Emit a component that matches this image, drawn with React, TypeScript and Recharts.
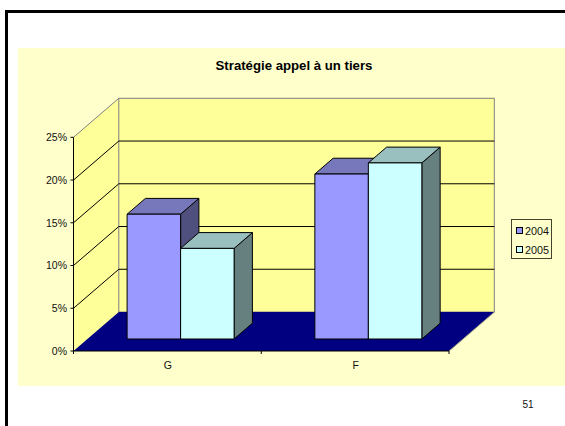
import React from 'react';
import { BarChart, Bar, XAxis, YAxis, Legend, usePlotArea } from 'recharts';

const title = 'Stratégie appel à un tiers';
const pageNumber = '51';
const categories = ['G', 'F'];
const series2004 = [14.6, 19.3];
const series2005 = [10.6, 20.6];
const yTicks = [0, 5, 10, 15, 20, 25];
const seriesNames = ['2004', '2005'];

const data = categories.map((name, i) => ({ name, s2004: series2004[i], s2005: series2005[i] }));

const FONT = '"Liberation Sans", Arial, sans-serif';
const WALL_DX = 45.3;
const WALL_DY = 39;
const BAR_SHIFT_X = 13.6;
const BAR_SHIFT_Y = 12;
const BAR_DX = 18.3;
const BAR_DY = 15.8;
const Y_MAX = 25;

const pts = (a: number[][]) => a.map((p) => p.join(',')).join(' ');

function Scene() {
  const plot = usePlotArea();
  if (!plot) return null;
  const { x, y, width, height } = plot;
  const x2 = x + width;
  const y0 = y + height;
  const yAt = (t: number) => y + height * (1 - t / Y_MAX);
  const n = categories.length;
  return (
    <g>
      <polygon points={pts([[x, y], [x + WALL_DX, y - WALL_DY], [x + WALL_DX, y0 - WALL_DY], [x, y0]])} fill="#FFFF99" />
      <rect x={x + WALL_DX} y={y - WALL_DY} width={width} height={height} fill="#FFFF99" stroke="#808080" strokeWidth={1} />
      <polygon
        points={pts([[x, y0], [x + WALL_DX, y0 - WALL_DY], [x2 + WALL_DX, y0 - WALL_DY], [x2, y0]])}
        fill="#000080"
      />
      {yTicks.filter((t) => t > 0).map((t) => {
        const c = t === Y_MAX ? '#808080' : '#000000';
        return (
          <g key={t}>
            <line x1={x} y1={yAt(t)} x2={x + WALL_DX} y2={yAt(t) - WALL_DY} stroke={c} />
            {t < Y_MAX && <line x1={x + WALL_DX} y1={yAt(t) - WALL_DY} x2={x2 + WALL_DX} y2={yAt(t) - WALL_DY} stroke={c} />}
          </g>
        );
      })}
      <line x1={x2} y1={y0} x2={x2 + WALL_DX} y2={y0 - WALL_DY} stroke="#808080" />
      <line x1={x} y1={y0} x2={x2} y2={y0} stroke="#000" />
      {Array.from({ length: n + 1 }, (_, i) => {
        const tx = x + (width * i) / n;
        return <line key={i} x1={tx} y1={y0} x2={tx} y2={y0 + 3} stroke="#000" />;
      })}
      <text x={294} y={70} textAnchor="middle" fontFamily={FONT} fontSize={13.2} fontWeight="bold" fill="#000">
        {title}
      </text>
      <text x={528} y={407.5} textAnchor="middle" fontFamily={FONT} fontSize={10} fill="#111">
        {pageNumber}
      </text>
    </g>
  );
}

function Box3D(props: any) {
  const { x, y, width, height, front, top, side } = props;
  const l = x + BAR_SHIFT_X;
  const t = y - BAR_SHIFT_Y;
  const r = l + width;
  const b = t + height;
  return (
    <g stroke="#000" strokeWidth={1} strokeLinejoin="round">
      <polygon points={pts([[r, t], [r + BAR_DX, t - BAR_DY], [r + BAR_DX, b - BAR_DY], [r, b]])} fill={side} />
      <polygon points={pts([[l, t], [l + BAR_DX, t - BAR_DY], [r + BAR_DX, t - BAR_DY], [r, t]])} fill={top} />
      <rect x={l} y={t} width={width} height={height} fill={front} />
    </g>
  );
}

const swatches = ['#9999FF', '#CCFFFF'];

function LegendBox() {
  return (
    <div
      style={{
        boxSizing: 'border-box',
        width: 41,
        height: 40,
        border: '1px solid #44442c',
        background: '#FFFFCC',
        fontFamily: FONT,
        fontSize: 10.8,
        color: '#111',
        padding: '1px 0 0 4px',
      }}
    >
      {seriesNames.map((s, i) => (
        <div key={s} style={{ display: 'flex', alignItems: 'center', height: 19 }}>
          <span
            style={{
              display: 'inline-block',
              boxSizing: 'border-box',
              width: 7,
              height: 7,
              border: '1px solid #000',
              background: swatches[i],
              marginRight: 2,
            }}
          />
          {s}
        </div>
      ))}
    </div>
  );
}

export default function App() {
  return (
    <div style={{ position: 'absolute', left: 0, top: 0, width: 565, height: 426, background: '#fff', overflow: 'hidden' }}>
      <div style={{ position: 'absolute', left: 18, top: 48, width: 547, height: 338, background: '#FFFFCC' }} />
      <div style={{ position: 'absolute', left: 5, top: 10, width: 560, height: 3, background: '#000' }} />
      <div style={{ position: 'absolute', left: 5, top: 10, width: 3, height: 416, background: '#000' }} />
      <div style={{ position: 'absolute', left: 0, top: 0 }}>
        <BarChart
          width={565}
          height={426}
          data={data}
          margin={{ top: 137.3, right: 116, bottom: 0, left: 0 }}
          barGap={0}
          barSize={53.5}
        >
          <Scene />
          <XAxis
            dataKey="name"
            height={75}
            axisLine={false}
            tickLine={false}
            tickMargin={5}
            tick={{ fontFamily: FONT, fontSize: 10.5, fill: '#111', dx: 0.5 }}
          />
          <YAxis
            width={73.5}
            domain={[0, Y_MAX]}
            ticks={yTicks}
            tickFormatter={(v: number) => `${v}%`}
            axisLine={{ stroke: '#000' }}
            tickLine={{ stroke: '#000' }}
            tickSize={3}
            tickMargin={3.5}
            tick={{ fontFamily: FONT, fontSize: 10.5, fill: '#111' }}
            interval={0}
          />
          <Bar dataKey="s2004" name={seriesNames[0]} isAnimationActive={false}
            shape={(p: any) => <Box3D {...p} front="#9999FF" top="#7777BB" side="#50507F" />} />
          <Bar dataKey="s2005" name={seriesNames[1]} isAnimationActive={false}
            shape={(p: any) => <Box3D {...p} front="#CCFFFF" top="#99BFBF" side="#668080" />} />
          <Legend
            layout="vertical"
            align="center"
            verticalAlign="middle"
            content={() => <LegendBox />}
            wrapperStyle={{ position: 'absolute', left: 511, top: 219, width: 41, height: 40, right: 'auto', bottom: 'auto' }}
          />
        </BarChart>
      </div>
    </div>
  );
}
